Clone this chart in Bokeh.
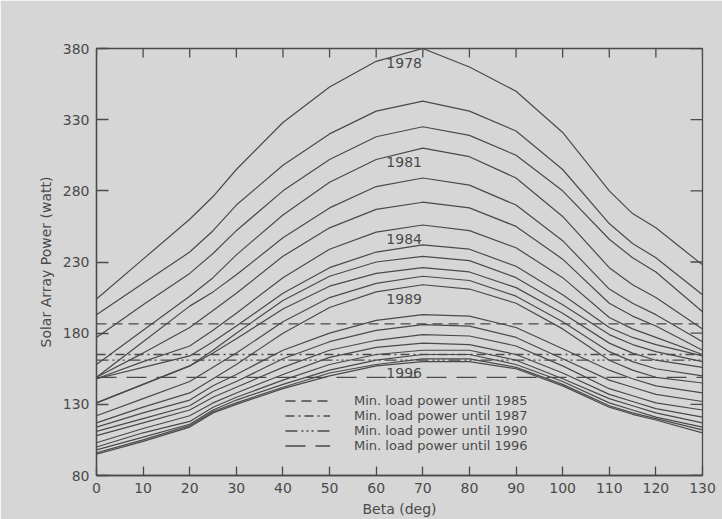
import math
from bokeh.plotting import figure
from bokeh.models import Range1d, FixedTicker, Legend, LegendItem, Label
from bokeh.embed import file_html
from bokeh.resources import INLINE

# ---- data ----
beta = [0, 10, 20, 25, 30, 40, 50, 60, 70, 80, 90, 100, 110, 115, 120, 130]

p1978 = [204, 232, 260, 276, 295, 328, 353, 371, 380, 367, 350, 321, 280, 264, 254, 228]
p1979 = [193, 215, 237, 252, 270, 298, 320, 336, 343, 336, 322, 295, 257, 243, 233, 207]
p1980 = [177, 200, 222, 236, 252, 280, 302, 318, 325, 319, 305, 280, 246, 233, 223, 195]
p1981 = [158, 182, 206, 219, 235, 263, 286, 302, 310, 304, 289, 262, 226, 214, 205, 183]
p1982 = [149, 174, 199, 209, 221, 247, 268, 283, 289, 284, 270, 245, 211, 201, 193, 174]
p1983 = [149, 166, 184, 196, 208, 234, 254, 267, 272, 268, 255, 232, 201, 192, 185, 168]
p1984 = [148, 160, 171, 182, 194, 219, 239, 251, 256, 252, 240, 219, 191, 183, 177, 165]
p1985 = [148, 156, 164, 174, 185, 208, 226, 237, 242, 239, 227, 207, 184, 177, 172, 164]
p1986 = [131, 144, 157, 168, 180, 203, 220, 230, 234, 231, 219, 200, 179, 172, 167, 160]
p1987 = [131, 144, 157, 166, 176, 197, 213, 222, 226, 223, 212, 194, 173, 166, 161, 156]
p1988 = [122, 134, 146, 156, 166, 188, 205, 215, 220, 217, 206, 188, 167, 160, 155, 150]
p1989 = [117, 128, 138, 148, 158, 180, 198, 209, 214, 211, 201, 183, 161, 154, 149, 145]
p1990 = [114, 124, 133, 143, 151, 168, 180, 189, 193, 192, 184, 169, 154, 148, 143, 138]
p1991 = [111, 120, 129, 139, 146, 162, 174, 182, 186, 185, 177, 162, 147, 142, 137, 132]
p1992 = [108, 117, 126, 135, 142, 156, 168, 175, 179, 178, 171, 157, 141, 136, 131, 126]
p1993 = [103, 113, 122, 131, 138, 151, 163, 170, 173, 172, 165, 152, 137, 132, 127, 121]
p1994 = [100, 110, 118, 128, 135, 147, 158, 165, 168, 168, 161, 148, 134, 129, 124, 117]
p1995 = [98, 107, 116, 126, 133, 144, 154, 161, 165, 165, 158, 146, 131, 126, 121, 114]
p1996 = [96, 105, 115, 125, 131, 142, 152, 158, 162, 162, 156, 144, 129, 124, 120, 112]
p1997 = [95, 104, 114, 124, 130, 141, 150, 157, 160, 160, 155, 143, 128, 123, 119, 110]

years = list(range(1978, 1998))
curves = [p1978, p1979, p1980, p1981, p1982, p1983, p1984, p1985, p1986, p1987,
          p1988, p1989, p1990, p1991, p1992, p1993, p1994, p1995, p1996, p1997]

labelled_years = [1978, 1981, 1984, 1989, 1996]

load_years = ["1985", "1987", "1990", "1996"]
load_power = [186.5, 165, 161, 149]

x_ticks = [0, 10, 20, 30, 40, 50, 60, 70, 80, 90, 100, 110, 120, 130]
y_ticks = [80, 130, 180, 230, 280, 330, 380]

# ---- style ----
BG = "#d6d6d6"
INK = "#4a4a4a"
FONT = "DejaVu Sans"
dashes = ["10 6", "9 4 2 4", "12 4 2 3 2 3 2 4", "20 10"]

p = figure(width=722, height=519,
           x_range=Range1d(x_ticks[0], x_ticks[-1]),
           y_range=Range1d(y_ticks[0], y_ticks[-1]),
           output_backend="svg", toolbar_location=None,
           x_axis_label="Beta (deg)", y_axis_label="Solar Array Power (watt)",
           min_border_left=96, min_border_right=20,
           min_border_top=48, min_border_bottom=44,
           background_fill_color=BG, border_fill_color=BG)
p.grid.visible = False
p.outline_line_color = INK
p.outline_line_width = 1.3


def style_axis(ax, tick_len):
    ax.axis_line_color = INK
    ax.axis_line_width = 1.3
    ax.major_tick_line_color = INK
    ax.major_tick_line_width = 1.3
    ax.major_tick_in = tick_len
    ax.major_tick_out = 0
    ax.minor_tick_in = 0
    ax.minor_tick_out = 0
    ax.minor_tick_line_color = None
    ax.major_label_text_font = FONT
    ax.major_label_text_font_size = "14px"
    ax.major_label_text_color = INK
    ax.axis_label_text_font = FONT
    ax.axis_label_text_font_size = "14px"
    ax.axis_label_text_font_style = "normal"
    ax.axis_label_text_color = INK


xb = p.xaxis[0]
xb.ticker = FixedTicker(ticks=x_ticks)
style_axis(xb, 9)
xb.major_label_standoff = 7
xb.axis_label_standoff = 5

yl = p.yaxis[0]
yl.ticker = FixedTicker(ticks=y_ticks)
style_axis(yl, 12)
yl.major_label_standoff = 7
yl.axis_label_standoff = 6

# inward ticks on the top and right edges of the frame
p.ray(x=x_ticks, y=[y_ticks[-1]] * len(x_ticks), length=9, length_units="screen",
      angle=-math.pi / 2, line_color=INK, line_width=1.3)
p.ray(x=[x_ticks[-1]] * len(y_ticks), y=y_ticks, length=12, length_units="screen",
      angle=math.pi, line_color=INK, line_width=1.3)

# ---- curves ----
for yr_, c in zip(years, curves):
    p.line(beta, c, line_color=INK, line_width=1.2)

# ---- minimum load power lines ----
items = []
for lab, v, d in zip(load_years, load_power, dashes):
    r = p.line([beta[0], beta[-1]], [v, v], line_color=INK, line_width=1.3, line_dash=d)
    items.append(LegendItem(label="Min. load power until " + lab, renderers=[r]))

legend = Legend(items=items, location=(189, 22), orientation="vertical",
                glyph_width=45, glyph_height=13, label_height=13, spacing=0,
                padding=0, margin=0, label_standoff=24,
                border_line_color=None, background_fill_alpha=0,
                label_text_font=FONT, label_text_font_size="13px",
                label_text_line_height=1.0,
                label_text_color=INK)
p.add_layout(legend)

# ---- year labels under the curve peaks ----
for yr_, c in zip(years, curves):
    if yr_ in labelled_years:
        p.add_layout(Label(x=66, y=max(c) - 10, text=str(yr_),
                           text_align="center", text_baseline="middle",
                           text_font=FONT, text_font_size="14px", text_color=INK))

open("out.html", "w").write(file_html(p, INLINE))
